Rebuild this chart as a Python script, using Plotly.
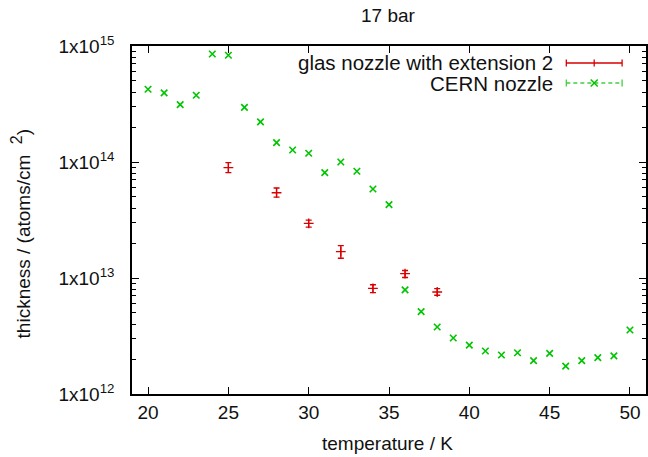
import plotly.graph_objects as go

# ---- data ----
title_text = "17 bar"
x_label = "temperature / K"
y_label = "thickness / (atoms/cm\u00a0\u00a0<sup><span style='font-size:16px'>2</span></sup>)"

glas_name = "glas nozzle with extension 2"
glas_T = [25, 28, 30, 32, 34, 36, 38]
glas_val = [8.93e13, 5.43e13, 2.96e13, 1.69e13, 8.15e12, 1.09e13, 7.57e12]
glas_err_plus = [0.93e13, 0.54e13, 0.20e13, 0.21e13, 0.60e12, 0.07e13, 0.52e12]
glas_err_minus = [0.84e13, 0.46e13, 0.22e13, 0.21e13, 0.68e12, 0.08e13, 0.47e12]

cern_name = "CERN nozzle"
cern_T = list(range(20, 51))
cern_val = [4.24e14, 3.94e14, 3.12e14, 3.76e14, 8.53e14, 8.32e14, 2.96e14, 2.22e14,
            1.47e14, 1.27e14, 1.19e14, 8.09e13, 1.00e14, 8.32e13, 5.85e13, 4.29e13,
            7.89e12, 5.13e12, 3.78e12, 3.04e12, 2.64e12, 2.35e12, 2.17e12, 2.27e12,
            1.94e12, 2.24e12, 1.74e12, 1.94e12, 2.06e12, 2.13e12, 3.56e12]

x_ticks = [20, 25, 30, 35, 40, 45, 50]
y_tick_vals = [1e12, 1e13, 1e14, 1e15]
y_tick_text = ["1x10<sup>12</sup>", "1x10<sup>13</sup>", "1x10<sup>14</sup>", "1x10<sup>15</sup>"]
y_minor_vals = [k * 10.0 ** e for e in (12, 13, 14) for k in range(2, 10)]

RED = "#d80000"
GREEN = "#00c400"
FONT = "Liberation Sans, Arial, sans-serif"

W, H = 648, 457
L, R, T, B = 132, 0, 46, 63
PW, PH = W - L - R, H - T - B

def px_x(p):
    return (p - L) / PW

def px_y(p):
    return (H - B - p) / PH

fig = go.Figure()

fig.add_trace(go.Scatter(
    x=glas_T, y=glas_val, mode="markers", name=glas_name,
    marker=dict(symbol="cross-thin", size=7, line=dict(color=RED, width=1.3), color=RED),
    error_y=dict(type="data", symmetric=False, array=glas_err_plus,
                 arrayminus=glas_err_minus, color=RED, thickness=1.3, width=3),
    showlegend=False,
))

fig.add_trace(go.Scatter(
    x=cern_T, y=cern_val, mode="markers", name=cern_name,
    marker=dict(symbol="x-thin", size=6.5, line=dict(color=GREEN, width=1.6), color=GREEN),
    showlegend=False,
))

# ---- manual gnuplot-style key ----
shapes = []
ann = []
key_x0, key_x1, key_xm = px_x(568), px_x(624), px_x(596)
rows = [(63, glas_name, RED, "solid", "plus"), (83, cern_name, GREEN, "dash", "x")]
cap = 3.5 / PH
mk = 3.5 / PW
mky = 3.5 / PH
for ypx, name, col, dash, sym in rows:
    yy = px_y(ypx)
    lc = col if sym == "plus" else "#40d040"
    shapes.append(dict(type="line", xref="paper", yref="paper", x0=key_x0, x1=key_x1,
                       y0=yy, y1=yy, line=dict(color=lc, width=1.3, dash=dash if dash == "solid" else "4px,3px")))
    for xe in (key_x0, key_x1):
        shapes.append(dict(type="line", xref="paper", yref="paper", x0=xe, x1=xe,
                           y0=yy - cap, y1=yy + cap, line=dict(color=lc, width=1.3)))
    if sym == "plus":
        shapes.append(dict(type="line", xref="paper", yref="paper", x0=key_xm, x1=key_xm,
                           y0=yy - mky, y1=yy + mky, line=dict(color=col, width=1.3)))
    else:
        shapes.append(dict(type="line", xref="paper", yref="paper", x0=key_xm - mk, x1=key_xm + mk,
                           y0=yy - mky, y1=yy + mky, line=dict(color=col, width=1.5)))
        shapes.append(dict(type="line", xref="paper", yref="paper", x0=key_xm - mk, x1=key_xm + mk,
                           y0=yy + mky, y1=yy - mky, line=dict(color=col, width=1.5)))
    ann.append(dict(text=name, xref="paper", yref="paper", x=px_x(557), y=yy,
                    xanchor="right", yanchor="middle", showarrow=False,
                    font=dict(family=FONT, size=20.5, color="#111111")))

ann.append(dict(text=title_text, xref="paper", yref="paper", x=px_x(389), y=px_y(16),
                xanchor="center", yanchor="middle", showarrow=False,
                font=dict(family=FONT, size=19, color="#111111")))
ann.append(dict(text=x_label, xref="paper", yref="paper", x=px_x(388), y=px_y(443),
                xanchor="center", yanchor="middle", showarrow=False,
                font=dict(family=FONT, size=19, color="#111111")))
ann.append(dict(text=y_label, xref="paper", yref="paper", x=px_x(21), y=px_y(233),
                xanchor="center", yanchor="middle", showarrow=False, textangle=-90,
                font=dict(family=FONT, size=19, color="#111111")))

fig.update_layout(
    width=W, height=H,
    margin=dict(l=L, r=R, t=T, b=B, pad=0),
    paper_bgcolor="white", plot_bgcolor="white",
    shapes=shapes, annotations=ann,
    showlegend=False,
    font=dict(family=FONT, size=19, color="#111111"),
)

fig.update_xaxes(
    range=[19, 51], tickmode="array", tickvals=x_ticks,
    ticks="inside", ticklen=7, tickwidth=1, tickcolor="black",
    showline=True, linecolor="black", linewidth=1.5, mirror="allticks",
    showgrid=False, zeroline=False, ticklabelstandoff=0,
    tickfont=dict(family=FONT, size=19, color="#111111"),
)
fig.update_yaxes(
    type="log", range=[12, 15], tickmode="array", tickvals=y_tick_vals, ticktext=y_tick_text,
    ticks="inside", ticklen=7, tickwidth=1, tickcolor="black",
    minor=dict(ticks="inside", ticklen=4, tickwidth=1, tickcolor="black",
               tickmode="array", tickvals=y_minor_vals, showgrid=False),
    showline=True, linecolor="black", linewidth=1.5, mirror="allticks",
    showgrid=False, zeroline=False, ticklabelstandoff=12,
    tickfont=dict(family=FONT, size=19, color="#111111"),
)

fig.write_html("out.html")
